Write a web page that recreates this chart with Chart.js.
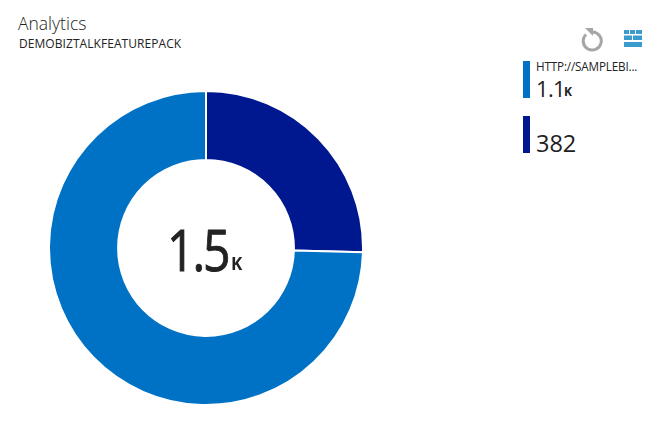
<!DOCTYPE html>
<html>
<head>
<meta charset="utf-8">
<title>Analytics</title>
<script src="https://cdn.jsdelivr.net/npm/chart.js@4"></script>
<style>
html, body { margin: 0; padding: 0; background: #fff; }
body { width: 662px; height: 445px; position: relative; overflow: hidden; font-family: "Open Sans", "Noto Sans", sans-serif; color: #222; }
.abs { position: absolute; white-space: nowrap; line-height: 1; }
#wrap { position: absolute; left: 48px; top: 90px; width: 316px; height: 316px; }
.swatch { position: absolute; left: 523px; width: 7px; height: 37px; }
</style>
</head>
<body>
<div class="abs" style="left:18px;top:15px;font-size:17.5px;font-weight:300;">Analytics</div>
<div class="abs" style="left:19px;top:38px;font-size:12px;letter-spacing:0.06px;">DEMOBIZTALKFEATUREPACK</div>

<svg class="abs" style="left:580px;top:26px" width="26" height="26" viewBox="0 0 26 26">
  <path d="M6 8.5 A9 9 0 1 0 12.5 6" fill="none" stroke="#a6a6a6" stroke-width="3"/>
  <path d="M5 2 L13 2 L13 10 Z" fill="#a6a6a6"/>
</svg>
<svg class="abs" style="left:623px;top:29px" width="20" height="19" viewBox="0 0 20 19">
  <g fill="#3a9bcc">
    <rect x="1" y="1" width="5" height="4"/><rect x="7" y="1" width="5" height="4"/><rect x="13" y="1" width="6" height="4"/>
    <rect x="1" y="6.5" width="8" height="4.5"/><rect x="10" y="6.5" width="9" height="4.5"/>
    <rect x="1" y="13" width="18" height="5"/>
  </g>
</svg>

<div id="wrap"><canvas id="donut"></canvas></div>
<div class="abs" style="left:167px;top:221px;font-size:56px;letter-spacing:-2.5px;transform:scaleX(0.86);transform-origin:0 0;-webkit-text-stroke:0.9px #222;">1.5</div>
<div class="abs" style="left:231px;top:255px;font-size:17px;font-weight:700;">K</div>

<div class="swatch" style="top:61px;background:#0072c6"></div>
<div class="abs" style="left:536px;top:61px;font-size:11.7px;letter-spacing:-0.16px;">HTTP://SAMPLEBI...</div>
<div class="abs" style="left:536px;top:77px;font-size:22px;letter-spacing:-0.7px;">1.1</div>
<div class="abs" style="left:564px;top:86px;font-size:12px;font-weight:700;">K</div>
<div class="swatch" style="top:116px;background:#00188f"></div>
<div class="abs" style="left:536px;top:132px;font-size:23.5px;">382</div>

<script>
"use strict"

const categories = ["", "HTTP://SAMPLEBI..."];
const hits = [382, 1120];
const sliceColors = ["#00188f", "#0072c6"];

const donut = new Chart(
    document.querySelector("#donut"),
    {
        type: "doughnut",
        data: {
            labels: categories,
            datasets: [{
                data: hits,
                backgroundColor: sliceColors,
                borderColor: "#ffffff",
                borderWidth: 2,
            }],
        },
        options: {
            responsive: true,
            maintainAspectRatio: false,
            animation: false,
            cutout: "56%",
            plugins: {
                legend: { display: false },
                tooltip: { enabled: false },
            },
        }
    }
);
</script>
</body>
</html>
